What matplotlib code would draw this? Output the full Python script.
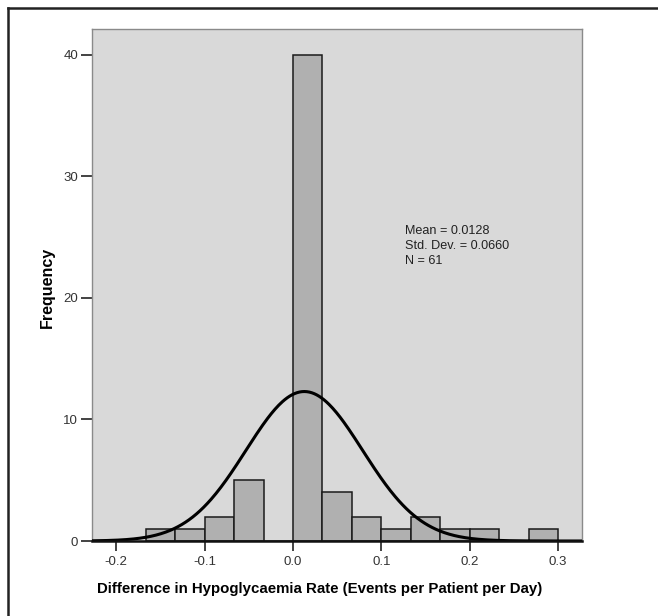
import numpy as np
import matplotlib.pyplot as plt
from matplotlib.lines import Line2D

plt.rcParams['font.family'] = ['Liberation Sans', 'DejaVu Sans']

# histogram bins (width 1/30) and counts
bin_edges = np.arange(-5, 10) / 30.0
counts = [1, 1, 2, 5, 0, 40, 4, 2, 1, 2, 1, 1, 0, 1]
mean = 0.0128
sd = 0.0660
n = 61

fig = plt.figure(figsize=(6.58, 6.16), dpi=100)
ax = fig.add_axes([92 / 658, 1 - 541 / 616, 490 / 658, 512 / 616])
ax.set_facecolor('#d9d9d9')

widths = np.diff(bin_edges)
ax.bar(bin_edges[:-1], counts, width=widths, align='edge',
       color='#b0b0b0', edgecolor='#1a1a1a', linewidth=1.1, zorder=2)

# normal curve scaled to counts
xmin, xmax = -0.2274, 0.327
xs = np.linspace(xmin, xmax, 400)
bw = 1 / 30.0
ys = n * bw / (sd * np.sqrt(2 * np.pi)) * np.exp(-0.5 * ((xs - mean) / sd) ** 2)
ax.plot(xs, ys, color='black', linewidth=2.2, zorder=3)

ax.set_xlim(xmin, xmax)
ax.set_ylim(0, 42.1)
ax.set_xticks([-0.2, -0.1, 0.0, 0.1, 0.2, 0.3])
ax.set_xticklabels(['-0.2', '-0.1', '0.0', '0.1', '0.2', '0.3'])
ax.set_yticks([0, 10, 20, 30, 40])

for s in ['top', 'right', 'left']:
    ax.spines[s].set_color('#8a8a8a')
    ax.spines[s].set_linewidth(1.0)
ax.spines['bottom'].set_color('#111111')
ax.spines['bottom'].set_linewidth(1.8)
ax.spines['bottom'].set_zorder(4)

ax.tick_params(axis='y', direction='out', length=8, width=1.2, color='#222222',
               labelsize=9.5, labelcolor='#333333', pad=2)
ax.tick_params(axis='x', direction='out', length=7, width=1.2, color='#222222',
               labelsize=9.5, labelcolor='#333333', pad=4)

ax.set_xlabel('Difference in Hypoglycaemia Rate (Events per Patient per Day)',
              fontsize=10.8, fontweight='bold')
ax.xaxis.set_label_coords(0.465, -0.08)
ax.set_ylabel('Frequency', fontsize=11.5, fontweight='bold', va='center')
ax.yaxis.set_label_coords(-0.092, 0.495)

ax.text(0.127, 26.0, 'Mean = 0.0128\nStd. Dev. = 0.0660\nN = 61',
        fontsize=9.1, color='#222222', va='top', ha='left', linespacing=1.35)

# outer frame (top and left edges visible)
fig.add_artist(Line2D([8 / 658, 1.0], [1 - 8 / 616, 1 - 8 / 616],
                      transform=fig.transFigure, color='#222222', linewidth=1.8))
fig.add_artist(Line2D([8 / 658, 8 / 658], [0.0, 1 - 8 / 616],
                      transform=fig.transFigure, color='#222222', linewidth=1.8))

fig.savefig('out.png', dpi=100)
